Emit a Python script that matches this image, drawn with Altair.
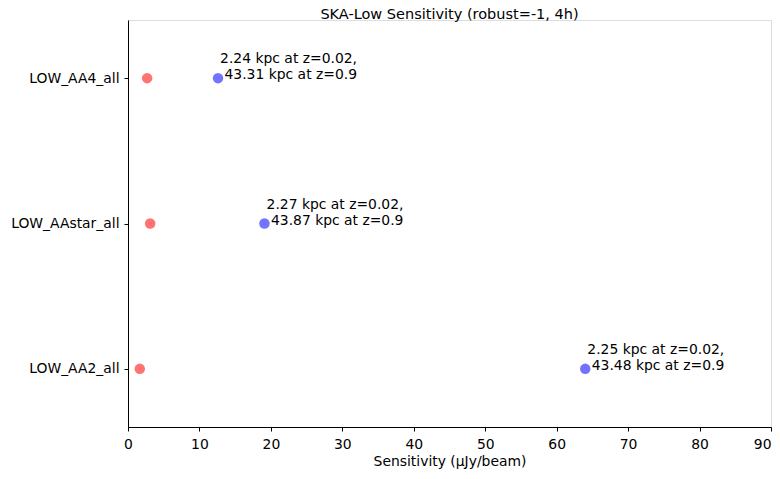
import altair as alt
import pandas as pd

telescopes = ["LOW_AA4_all", "LOW_AAstar_all", "LOW_AA2_all"]
positions = [2, 1, 0]
red_vals = [2.68, 3.1, 1.65]
blue_vals = [12.6, 19.1, 64.0]
label_line1 = ["2.24 kpc at z=0.02,", "2.27 kpc at z=0.02,", "2.25 kpc at z=0.02,"]
label_line2 = ["43.31 kpc at z=0.9", "43.87 kpc at z=0.9", "43.48 kpc at z=0.9"]
x_ticks = [0, 10, 20, 30, 40, 50, 60, 70, 80, 90]
title_text = "SKA-Low Sensitivity (robust=-1, 4h)"

df = pd.DataFrame({
    "telescope": telescopes,
    "pos": positions,
    "red": red_vals,
    "blue": blue_vals,
    "l1": label_line1,
    "l2": label_line2,
})
title_df = pd.DataFrame({"t": [title_text]})

label_expr = ("datum.value == 2 ? 'LOW_AA4_all' : datum.value == 1 ? 'LOW_AAstar_all' : "
              "datum.value == 0 ? 'LOW_AA2_all' : ''")

FONT = "DejaVu Sans"
FS = 13.9
W = 643
H = 407

x_scale = alt.Scale(domain=[0, 90], nice=False, zero=False)
y_scale = alt.Scale(domain=[-0.4, 2.4], nice=False, zero=False)

x_axis = alt.Axis(values=x_ticks, title="Sensitivity (μJy/beam)", grid=False,
                  tickSize=4, tickColor="black", domainColor="black",
                  labelFont=FONT, labelFontSize=FS, labelColor="black",
                  labelPadding=6, titleFont=FONT, titleFontSize=FS,
                  titleFontWeight="normal", titleColor="black", titlePadding=4,
                  labelFlush=False,
                  labelAlign=alt.ExprRef("datum.value == 90 ? 'right' : 'center'"))
y_axis = alt.Axis(values=[0, 1, 2], labelExpr=label_expr, title=None, grid=False,
                  tickSize=4, tickColor="black", domainColor="black",
                  labelFont=FONT, labelFontSize=FS, labelColor="black",
                  labelPadding=5, labelFlush=False)

base = alt.Chart(df)

red = base.mark_circle(size=110, color="red", opacity=0.55).encode(
    x=alt.X("red:Q", scale=x_scale, axis=x_axis),
    y=alt.Y("pos:Q", scale=y_scale, axis=y_axis),
)
blue = base.mark_circle(size=110, color="blue", opacity=0.55).encode(
    x=alt.X("blue:Q", scale=x_scale),
    y=alt.Y("pos:Q", scale=y_scale),
)
t1 = base.mark_text(align="right", baseline="alphabetic", dx=139, dy=-15,
                    font=FONT, fontSize=FS, color="black").encode(
    x=alt.X("blue:Q", scale=x_scale),
    y=alt.Y("pos:Q", scale=y_scale),
    text="l1:N",
)
t2 = base.mark_text(align="right", baseline="alphabetic", dx=139, dy=1,
                    font=FONT, fontSize=FS, color="black").encode(
    x=alt.X("blue:Q", scale=x_scale),
    y=alt.Y("pos:Q", scale=y_scale),
    text="l2:N",
)
title = alt.Chart(title_df).mark_text(align="center", baseline="alphabetic",
                                      font=FONT, fontSize=14.5, color="black").encode(
    x=alt.value(W / 2),
    y=alt.value(-1),
    text="t:N",
)

chart = alt.layer(red, blue, t1, t2, title).properties(
    width=W,
    height=H,
    autosize=alt.AutoSizeParams(type="none"),
    padding={"left": 120, "top": 12, "right": 1, "bottom": 44},
).configure_view(stroke="black", strokeWidth=1).configure(background="white")

chart.save("out.html", embed_options={"renderer": "svg", "actions": False})
